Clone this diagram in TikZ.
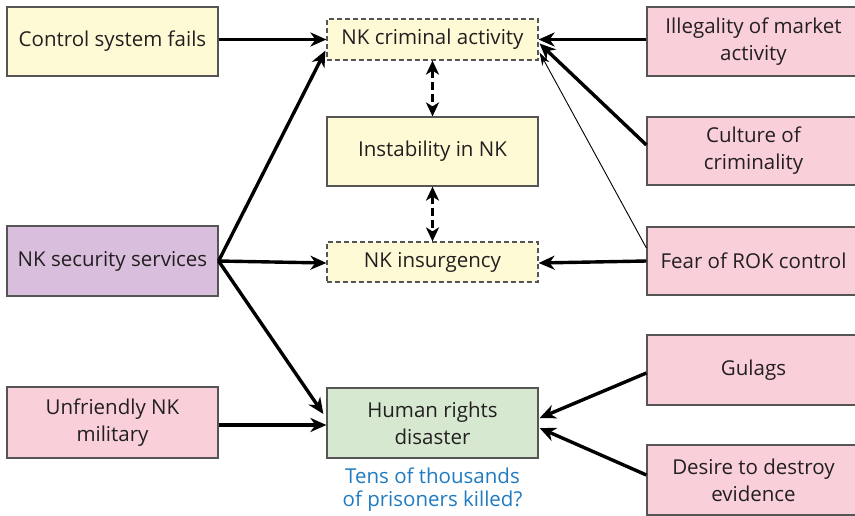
\documentclass[tikz,border=0pt]{standalone}
\usepackage{fontspec}
\setmainfont{Open Sans}
\usetikzlibrary{arrows.meta}
\definecolor{ylw}{HTML}{FFFAD6}
\definecolor{pnk}{HTML}{F9D0DA}
\definecolor{prp}{HTML}{D9BFDD}
\definecolor{grn}{HTML}{D6E9D0}
\definecolor{bdr}{HTML}{555555}
\definecolor{cap}{HTML}{1F7BC1}
\definecolor{txt}{HTML}{231F20}
\begin{document}
\begin{tikzpicture}[x=1pt,y=-1pt,
  box/.style={draw=bdr,line width=1.2pt,align=center,inner sep=0pt,
    minimum width=211pt,minimum height=69pt,font=\fontsize{20.5}{27}\selectfont,text=txt},
  dbox/.style={box,dashed,dash pattern=on 5pt off 3pt,minimum height=41pt},
  arr/.style={line width=3.4pt,-{Stealth[length=16pt,width=14pt,inset=5pt]}},
  thinarr/.style={line width=0.9pt,-{Stealth[length=13pt,width=8pt,inset=4pt]}},
  darr/.style={line width=3.4pt,dash pattern=on 8pt off 4pt,
    {Stealth[length=14pt,width=13pt,inset=4pt]}-{Stealth[length=14pt,width=13pt,inset=4pt]}}]
\useasboundingbox (0,0) rectangle (855,515);
\clip (0,0) rectangle (855,515);
% left column
\node[box,fill=ylw] (ctrl) at (112.5,41.5) {Control system fails};
\node[box,fill=prp,minimum height=70pt] (sec) at (112.5,261) {NK security services};
\node[box,fill=pnk,minimum height=71pt] (unf) at (112.5,422.5) {Unfriendly NK\\military};
% middle column
\node[dbox,fill=ylw] (crim) at (432.5,39.5) {NK criminal activity};
\node[box,fill=ylw] (inst) at (432.5,151.5) {Instability in NK};
\node[dbox,fill=ylw,minimum height=40pt] (ins) at (432.5,262) {NK insurgency};
\node[box,fill=grn,minimum height=70pt] (hum) at (432.5,423) {Human rights\\disaster};
\node[align=center,text=cap,font=\fontsize{20.5}{23.5}\selectfont,anchor=north] (capt) at (432.5,464) {Tens of thousands\\of prisoners killed?};
% right column
\node[box,fill=pnk,minimum width=213pt] (ill) at (753.5,41.5) {Illegality of market\\activity};
\node[box,fill=pnk,minimum width=213pt,minimum height=68pt] (cul) at (753.5,151) {Culture of\\criminality};
\node[box,fill=pnk,minimum width=213pt,minimum height=68pt] (fear) at (753.5,261) {Fear of ROK control};
\node[box,fill=pnk,minimum width=213pt,minimum height=70pt] (gul) at (753.5,370) {Gulags};
\node[box,fill=pnk,minimum width=213pt,minimum height=70pt] (des) at (753.5,480) {Desire to destroy\\evidence};
% arrows
\draw[arr] ([yshift=2pt]ctrl.east) -- ([yshift=0pt]crim.west);
\draw[arr] (sec.east) -- ([xshift=-1pt,yshift=10pt]crim.south west);
\draw[arr] (sec.east) -- ([yshift=-1pt]ins.west);
\draw[arr] (sec.east) -- ([xshift=-3pt,yshift=9pt]hum.west);
\draw[arr] ([yshift=-2.5pt]unf.east) -- ([yshift=-2pt]hum.west);
\draw[arr] ([yshift=2pt]ill.west) -- (crim.east);
\draw[arr] ([yshift=6pt]cul.west) -- ([xshift=1pt,yshift=-4pt]crim.east);
\draw[thinarr] ([yshift=13pt]fear.west) -- ([xshift=1pt,yshift=-13pt]crim.east);
\draw[arr] (fear.west) -- ([yshift=-1pt]ins.east);
\draw[arr] ([yshift=-3pt]gul.west) -- ([xshift=1pt,yshift=5pt]hum.east);
\draw[arr] ([yshift=5pt]des.west) -- ([xshift=1pt,yshift=-5pt]hum.east);
\draw[darr] (crim.south) -- (inst.north);
\draw[darr] (inst.south) -- (ins.north);
\end{tikzpicture}
\end{document}
